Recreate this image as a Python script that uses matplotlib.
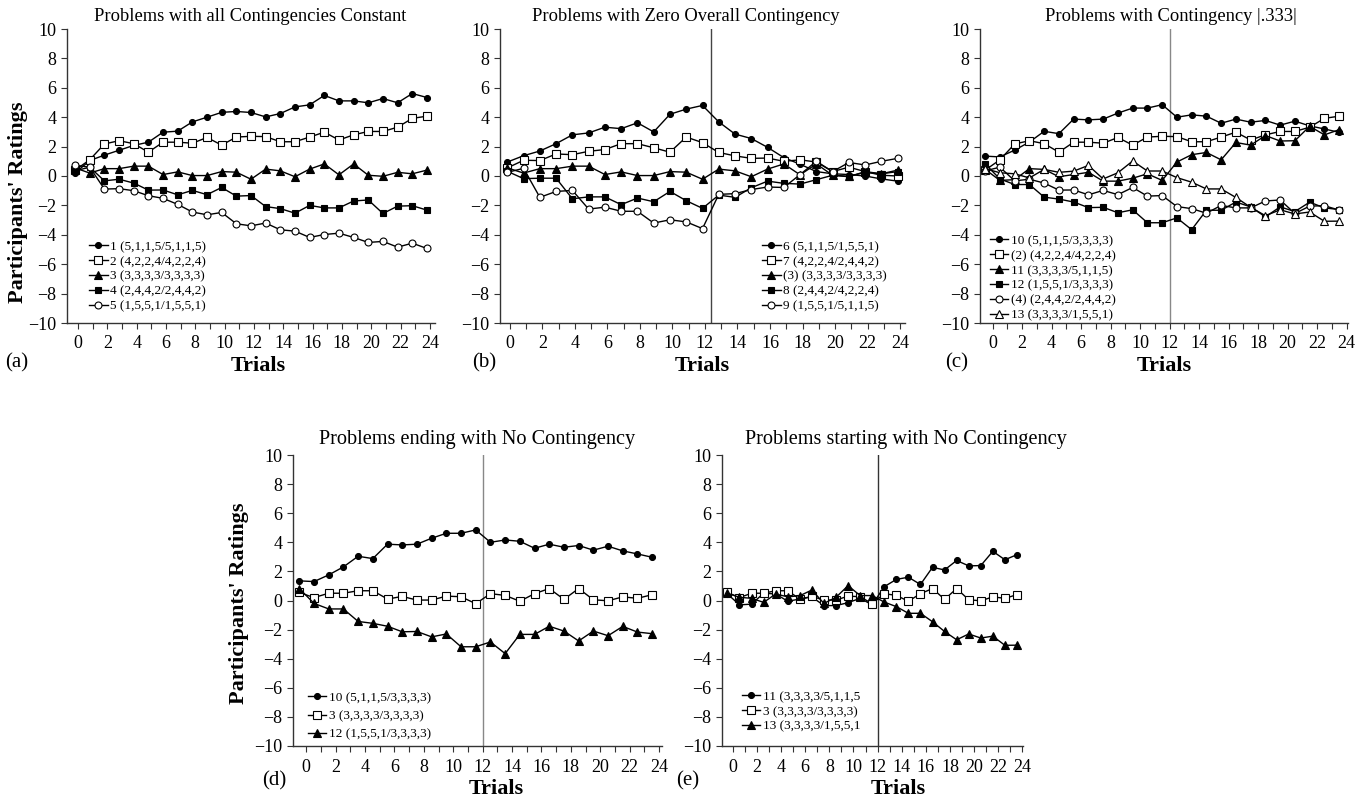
import matplotlib
matplotlib.use('Agg')
import matplotlib.pyplot as plt
import numpy as np

plt.rcParams['font.family'] = ['Liberation Serif', 'DejaVu Serif']

# ratings per trial block (25 points)
p1 = [0.2, 1.05, 1.42, 1.75, 2.08, 2.3, 2.98, 3.05, 3.68, 4.0, 4.33, 4.39, 4.32, 4.02, 4.25, 4.7, 4.84, 5.48, 5.11, 5.11, 4.98, 5.27, 4.98, 5.61, 5.34]
p2 = [0.4, 1.1, 2.18, 2.4, 2.2, 1.62, 2.3, 2.3, 2.23, 2.62, 2.1, 2.65, 2.7, 2.68, 2.33, 2.33, 2.65, 2.98, 2.45, 2.8, 3.03, 3.03, 3.32, 3.92, 4.07]
p3 = [0.55, 0.2, 0.5, 0.5, 0.67, 0.67, 0.1, 0.28, 0.03, 0.03, 0.3, 0.26, -0.22, 0.47, 0.35, -0.05, 0.47, 0.82, 0.08, 0.82, 0.05, -0.02, 0.25, 0.15, 0.4]
p4 = [0.35, 0.6, -0.33, -0.22, -0.48, -0.96, -0.95, -1.28, -0.98, -1.27, -0.78, -1.37, -1.33, -2.08, -2.22, -2.53, -2.0, -2.17, -2.17, -1.7, -1.63, -2.55, -2.05, -2.02, -2.32]
p5 = [0.73, 0.6, -0.89, -0.86, -1.0, -1.34, -1.52, -1.93, -2.45, -2.64, -2.48, -3.25, -3.39, -3.2, -3.66, -3.75, -4.18, -3.98, -3.89, -4.18, -4.52, -4.45, -4.84, -4.57, -4.93]
p6 = [0.95, 1.38, 1.7, 2.2, 2.8, 2.93, 3.32, 3.22, 3.62, 3.0, 4.2, 4.55, 4.8, 3.68, 2.85, 2.55, 1.95, 1.25, 0.8, 0.3, 0.15, 0.1, 0.0, -0.2, -0.35]
p7 = [0.55, 1.07, 1.05, 1.5, 1.45, 1.68, 1.8, 2.2, 2.2, 1.92, 1.62, 2.65, 2.27, 1.6, 1.37, 1.2, 1.22, 1.0, 1.1, 0.95, 0.3, 0.6, 0.3, 0.05, 0.0]
p8 = [0.32, -0.18, -0.15, -0.15, -1.55, -1.42, -1.42, -1.95, -1.5, -1.75, -1.05, -1.68, -2.2, -1.3, -1.45, -0.8, -0.35, -0.5, -0.55, -0.25, 0.05, -0.05, 0.3, 0.15, 0.3]
p9 = [0.25, 0.52, -1.45, -1.05, -0.98, -2.25, -2.12, -2.4, -2.4, -3.2, -2.98, -3.12, -3.58, -1.25, -1.2, -0.92, -0.75, -0.78, 0.1, 1.0, 0.3, 0.92, 0.75, 1.0, 1.2]
p10 = [1.35, 1.3, 1.76, 2.31, 3.04, 2.88, 3.87, 3.82, 3.87, 4.28, 4.62, 4.62, 4.85, 4.0, 4.16, 4.07, 3.59, 3.87, 3.66, 3.78, 3.46, 3.73, 3.41, 3.2, 2.97]
p11 = [0.45, -0.3, -0.25, 0.5, 0.45, -0.05, 0.1, 0.25, -0.35, -0.35, -0.15, 0.15, -0.3, 0.95, 1.45, 1.6, 1.1, 2.28, 2.1, 2.75, 2.38, 2.4, 3.38, 2.8, 3.15]
p12 = [0.82, -0.2, -0.58, -0.58, -1.44, -1.57, -1.77, -2.15, -2.13, -2.5, -2.3, -3.18, -3.18, -2.85, -3.65, -2.33, -2.33, -1.77, -2.1, -2.78, -2.1, -2.42, -1.78, -2.17, -2.28]
p13 = [0.5, 0.22, 0.15, -0.13, 0.45, 0.25, 0.33, 0.72, -0.2, 0.22, 1.02, 0.34, 0.34, -0.11, -0.42, -0.88, -0.88, -1.46, -2.13, -2.7, -2.3, -2.58, -2.45, -3.08, -3.07]

labels_a = ['1 (5,1,1,5/5,1,1,5)', '2 (4,2,2,4/4,2,2,4)', '3 (3,3,3,3/3,3,3,3)',
            '4 (2,4,4,2/2,4,4,2)', '5 (1,5,5,1/1,5,5,1)']
labels_b = ['6 (5,1,1,5/1,5,5,1)', '7 (4,2,2,4/2,4,4,2)', '(3) (3,3,3,3/3,3,3,3)',
            '8 (2,4,4,2/4,2,2,4)', '9 (1,5,5,1/5,1,1,5)']
labels_c = ['10 (5,1,1,5/3,3,3,3)', '(2) (4,2,2,4/4,2,2,4)', '11 (3,3,3,3/5,1,1,5)',
            '12 (1,5,5,1/3,3,3,3)', '(4) (2,4,4,2/2,4,4,2)', '13 (3,3,3,3/1,5,5,1)']
labels_d = ['10 (5,1,1,5/3,3,3,3)', '3 (3,3,3,3/3,3,3,3)', '12 (1,5,5,1/3,3,3,3)']
labels_e = ['11 (3,3,3,3/5,1,1,5', '3 (3,3,3,3/3,3,3,3)', '13 (3,3,3,3/1,5,5,1']

titles = ['Problems with all Contingencies Constant',
          'Problems with Zero Overall Contingency',
          'Problems with Contingency |.333|',
          'Problems ending with No Contingency',
          'Problems starting with No Contingency']
panel_letters = ['(a)', '(b)', '(c)', '(d)', '(e)']
y_ticks = np.arange(-10, 11, 2)
x_ticks = np.arange(0, 25, 2)

W, H = 1364, 801

MARKERS = {
    'dot': dict(marker='o', markersize=4.3, markerfacecolor='black'),
    'osq': dict(marker='s', markersize=5.3, markerfacecolor='white'),
    'tri': dict(marker='^', markersize=5.8, markerfacecolor='black'),
    'sq': dict(marker='s', markersize=5.0, markerfacecolor='black'),
    'oc': dict(marker='o', markersize=5.0, markerfacecolor='white'),
    'otri': dict(marker='^', markersize=5.8, markerfacecolor='white'),
}


def rect(left, right, top, bottom):
    return [left / W, 1 - bottom / H, (right - left) / W, (bottom - top) / H]


def panel(fig, box, series, labels, kinds, xoff, xlim, title, title_x, title_pad,
          leg_xy, leg_space, split=None, trials_x=0.5, trials_y=-0.112, title_size=13.3):
    ax = fig.add_axes(box)
    x = np.arange(len(series[0])) + xoff
    for vals, lab, kind in zip(series, labels, kinds):
        ax.plot(x, vals, color='black', lw=1.0, markeredgecolor='black',
                markeredgewidth=0.8, label=lab, **MARKERS[kind])
    if split is not None:
        # vertical divider halfway between trial blocks 12 and 13
        ax.axvline((x[12] + x[13]) / 2, color=split, lw=1.0, zorder=0)
    ax.set_xlim(*xlim)
    ax.set_ylim(-10, 10)
    ax.set_yticks(y_ticks)
    ax.set_xticks(x_ticks)
    ax.set_xticks(np.arange(0, 25, 1), minor=True)
    ax.tick_params(labelsize=13, length=4, width=0.8, color='#333')
    ax.tick_params(axis='x', pad=5)
    ax.tick_params(which='minor', length=4, width=0.8, color='#333')
    for s in ['top', 'right']:
        ax.spines[s].set_visible(False)
    for s in ['left', 'bottom']:
        ax.spines[s].set_color('#333')
        ax.spines[s].set_linewidth(1.0)
    ax.set_title(title, fontsize=title_size, x=title_x, pad=title_pad)
    ax.set_xlabel('Trials', fontsize=16, fontweight='bold')
    ax.xaxis.set_label_coords(trials_x, trials_y)
    ax.legend(loc='upper left', bbox_to_anchor=leg_xy, frameon=False, fontsize=9.5,
              handlelength=1.4, handletextpad=0.2, labelspacing=leg_space,
              borderpad=0, borderaxespad=0)
    return ax


fig = plt.figure(figsize=(W / 100, H / 100), dpi=100)

ax_a = panel(fig, rect(67, 435, 29, 323), [p1, p2, p3, p4, p5], labels_a,
             ['dot', 'osq', 'tri', 'sq', 'oc'], -0.2, (-0.75, 24.35),
             titles[0], 0.497, 5.5, (0.06, 0.28), 0.2, trials_x=0.52)
ax_b = panel(fig, rect(500, 905, 29, 323), [p6, p7, p3, p8, p9], labels_b,
             ['dot', 'osq', 'tri', 'sq', 'oc'], -0.15, (-0.6, 24.3),
             titles[1], 0.46, 5.5, (0.647, 0.28), 0.2, split='#444')
ax_c = panel(fig, rect(980, 1348, 29, 323), [p10, p2, p11, p12, p4, p13], labels_c,
             ['dot', 'osq', 'tri', 'sq', 'oc', 'otri'], -0.5, (-0.85, 24.1),
             titles[2], 0.52, 5.5, (0.027, 0.30), 0.2, split='#888')
ax_d = panel(fig, rect(293, 662, 455, 746), [p10, p3, p12], labels_d,
             ['dot', 'osq', 'tri'], -0.47, (-0.9, 24.2),
             titles[3], 0.5, 8, (0.04, 0.186), 0.45, split='#888',
             trials_x=0.55, trials_y=-0.113, title_size=14.6)
ax_e = panel(fig, rect(722, 1023, 455, 746), [p11, p3, p13], labels_e,
             ['dot', 'osq', 'tri'], -0.45, (-0.9, 24.05),
             titles[4], 0.61, 8, (0.066, 0.19), 0.2, split='#333',
             trials_x=0.585, trials_y=-0.113, title_size=14.6)

for ax, lx, ly in [(ax_a, -0.106, 0.41), (ax_d, -0.12, 0.49)]:
    ax.set_ylabel("Participants' Ratings", fontsize=16, fontweight='bold')
    ax.yaxis.set_label_coords(lx, ly)

for letter, px, py in zip(panel_letters, [5, 472, 945, 262, 676], [363, 363, 363, 781, 781]):
    fig.text(px / W, 1 - py / H, letter, fontsize=15, va='center', ha='left')

fig.savefig('out.png', dpi=100)
